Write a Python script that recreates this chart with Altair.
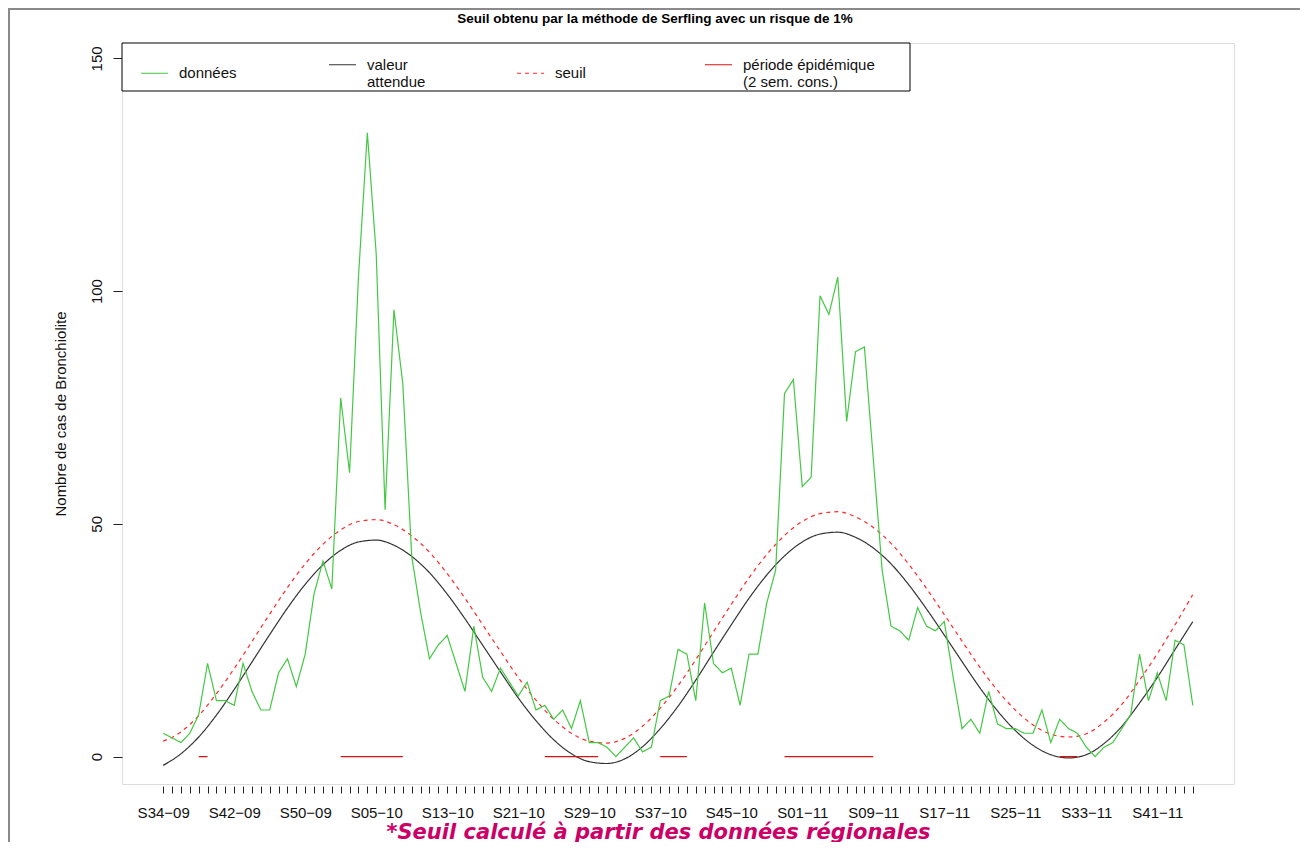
import altair as alt
import pandas as pd

# ---------------- données ----------------
# semaines S34-09 ... S45-11 (2009 a 53 semaines)
annees = [("09", 34, 53), ("10", 1, 52), ("11", 1, 45)]
semaines = [f"S{w:02d}\u2212{a}" for a, d, f in annees for w in range(d, f + 1)]
etiquettes = semaines[::8]  # une étiquette toutes les 8 semaines

donnees = [5, 4, 3, 5, 9, 20, 12, 12, 11, 20, 14, 10, 10, 18, 21, 15, 22, 35, 42, 36,
           77, 61, 103, 134, 108, 53, 96, 80, 43, 31, 21, 24, 26, 20, 14, 28, 17, 14, 19, 16,
           13, 16, 10, 11, 8, 10, 6, 12, 3, 3, 2, 0, 2, 4, 1, 2, 12, 13, 23, 22,
           12, 33, 20, 18, 19, 11, 22, 22, 33, 40, 78, 81, 58, 60, 99, 95, 103, 72, 87, 88,
           64, 40, 28, 27, 25, 32, 28, 27, 29, 17, 6, 8, 5, 14, 7, 6, 6, 5, 5, 10,
           3, 8, 6, 5, 2, 0, 2, 3, 6, 9, 22, 12, 18, 12, 25, 24, 11]

courbe_sem = list(range(0, 117, 2))
attendue = [-1.9, 0.6, 4.2, 8.9, 14.4, 20.3, 26.2, 31.9, 37.0, 41.2, 44.3, 46.1, 46.5, 45.4,
            43.0, 39.5, 34.9, 29.6, 23.9, 18.2, 12.6, 7.7, 3.6, 0.6, -1.1, -1.5, -0.5, 2.1,
            6.0, 10.8, 16.4, 22.4, 28.3, 34.0, 39.0, 43.1, 46.1, 47.8, 48.2, 47.1, 44.8, 41.4,
            36.9, 31.7, 26.1, 20.4, 14.8, 9.8, 5.6, 2.4, 0.4, -0.3, 0.4, 2.8, 6.5, 11.5,
            17.0, 23.0, 29.0]
seuil = [3.3, 5.3, 8.8, 13.5, 18.9, 24.7, 30.6, 36.3, 41.4, 45.6, 48.7, 50.5, 50.9, 49.8,
         47.4, 43.9, 39.3, 34.0, 28.3, 22.6, 17.0, 12.1, 8.0, 5.0, 3.3, 2.9, 3.9, 6.5,
         10.4, 15.2, 20.8, 26.8, 32.7, 38.4, 43.4, 47.5, 50.5, 52.2, 52.6, 51.5, 49.2, 45.8,
         41.3, 36.1, 30.5, 24.8, 19.2, 14.2, 10.0, 6.8, 4.8, 4.2, 4.9, 7.4, 11.2, 16.4,
         22.1, 28.3, 34.8]
periodes = [(4, 5), (20, 27), (43, 49), (56, 59), (70, 80), (101, 103)]

series = ["données", "valeur attendue", "seuil", "période épidémique"]
couleurs = ["#44c844", "#333333", "#ff2a2a", "#dd1111"]
tirets = [[1, 0], [1, 0], [4, 4], [1, 0]]
epaisseurs = [1.2, 1.2, 1.2, 3.5]

# ---------------- tables ----------------
df_d = pd.DataFrame({"sem": list(range(len(donnees))), "val": donnees, "serie": "données"})
df_c = pd.concat([
    pd.DataFrame({"sem": courbe_sem, "val": attendue, "serie": "valeur attendue"}),
    pd.DataFrame({"sem": courbe_sem, "val": seuil, "serie": "seuil"}),
])
rows = []
for k, (a, b) in enumerate(periodes):
    rows.append({"sem": a, "val": 0, "serie": "période épidémique", "seg": k})
    rows.append({"sem": b, "val": 0, "serie": "période épidémique", "seg": k})
df_p = pd.DataFrame(rows)

W, H = 1112, 741
font = "Liberation Sans"

label_js = "[" + ",".join(f"'{e}'" for e in etiquettes) + "]"
x_axis = alt.Axis(
    values=list(range(len(semaines))),
    labelExpr=f"datum.value % 8 == 0 ? {label_js}[datum.value / 8] : ''",
    tickSize=7, offset=2, domain=False, grid=False, labelOverlap=False, labelFlush=False,
    labelAngle=0, labelFontSize=15, labelFont=font, labelColor="#111", tickColor="#222",
    labelPadding=12,
    title="*Seuil calculé à partir des données régionales",
    titleFont="DejaVu Sans", titleFontSize=21, titleFontWeight="bold", titleFontStyle="italic",
    titleColor="#cc0066", titleX=536, titleY=52, titleBaseline="alphabetic",
    titleAlign="center", titleAnchor="start",
)
y_axis = alt.Axis(
    values=[0, 50, 100, 150], tickSize=9, domain=False, grid=False,
    labelAngle=270, labelAlign="center", labelBaseline="alphabetic", labelPadding=12,
    labelFontSize=15, labelFont=font, labelColor="#111", tickColor="#222",
    title="Nombre de cas de Bronchiolite", titleFont=font, titleFontSize=15,
    titleFontWeight="normal", titleColor="#111", titleAngle=270, titleX=-57,
    titleY=H / 2, titleAlign="center", titleBaseline="alphabetic", titleAnchor="start",
)

xs = alt.Scale(domain=[-4.64, 120.64], nice=False, zero=False)
ys = alt.Scale(domain=[-5.9, 153.3], nice=False, zero=False)

leg = alt.Legend(
    title=None, orient="none", legendX=18, legendY=7, direction="horizontal",
    columns=4, gridAlign="all", columnPadding=15, labelOffset=10, padding=0,
    symbolType="stroke", symbolSize=729, labelFont=font, labelFontSize=15,
    labelColor="#111", labelLimit=400, labelBaseline="middle",
    labelExpr="datum.label == 'valeur attendue' ? ['valeur', '\u00a0attendue'] : "
              "datum.label == 'période épidémique' ? ['période épidémique', '\u00a0(2 sem. cons.)'] : datum.label",
)

def enc(chart, **extra):
    return chart.encode(
        x=alt.X("sem:Q", scale=xs, axis=x_axis),
        y=alt.Y("val:Q", scale=ys, axis=y_axis),
        color=alt.Color("serie:N", scale=alt.Scale(domain=series, range=couleurs), legend=leg),
        strokeDash=alt.StrokeDash("serie:N", scale=alt.Scale(domain=series, range=tirets), legend=leg),
        strokeWidth=alt.StrokeWidth("serie:N", scale=alt.Scale(domain=series, range=epaisseurs), legend=leg),
        **extra,
    )

one = pd.DataFrame({"a": [0]})
cadre_legende = alt.Chart(one).mark_rect(fill="white", stroke="black", strokeWidth=1).encode(
    x=alt.value(0), x2=alt.value(788), y=alt.value(0), y2=alt.value(48))
bord_haut = alt.Chart(one).mark_rule(color="#8a8a8a", strokeWidth=2).encode(
    x=alt.value(-114), x2=alt.value(W + 70), y=alt.value(-34))
bord_gauche = alt.Chart(one).mark_rule(color="#8a8a8a", strokeWidth=2).encode(
    x=alt.value(-113), y=alt.value(-35), y2=alt.value(H + 60))
titre = alt.Chart(one).mark_text(
    text="Seuil obtenu par la méthode de Serfling avec un risque de 1%",
    font=font, fontSize=13.5, fontWeight="bold", align="center", baseline="alphabetic",
    color="#000").encode(x=alt.value(533), y=alt.value(-20))

l_donnees = enc(alt.Chart(df_d).mark_line(interpolate="linear"))
l_courbes = enc(alt.Chart(df_c).mark_line(interpolate="monotone"), detail="serie:N")
l_periodes = enc(alt.Chart(df_p).mark_line(interpolate="linear", strokeCap="butt"), detail="seg:N")

chart = alt.layer(
    cadre_legende, l_courbes, l_donnees, l_periodes, bord_haut, bord_gauche, titre
).properties(
    width=W, height=H,
    autosize=alt.AutoSizeParams(type="none"),
    padding={"left": 114, "top": 35, "right": 66, "bottom": 58},
).configure_view(stroke="#000", strokeWidth=1.3).configure(background="white")

chart.save("out.html", embed_options={"renderer": "svg", "actions": False})
